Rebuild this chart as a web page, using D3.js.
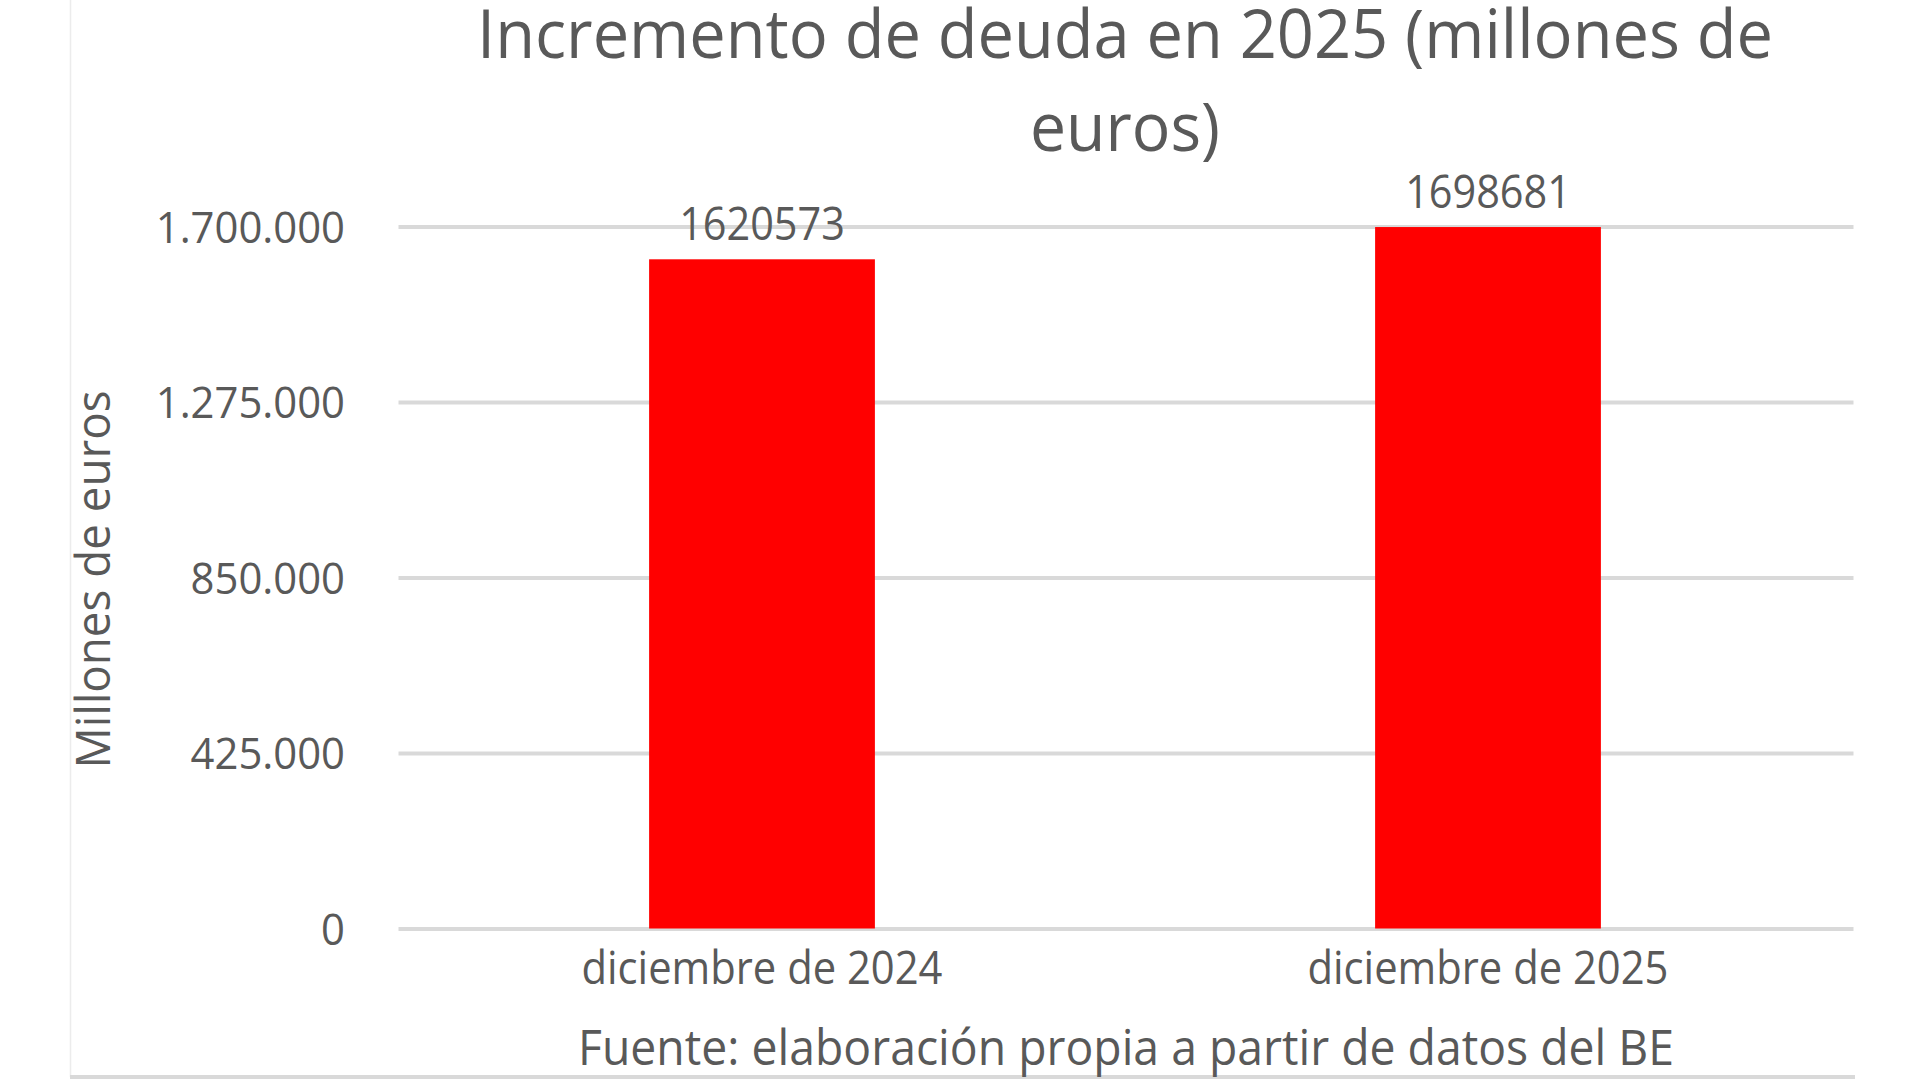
<!DOCTYPE html>
<html>
<head>
<meta charset="utf-8">
<script src="https://cdn.jsdelivr.net/npm/d3@7"></script>
<style>
  body { margin: 0; background: #fff; }
  text { font-family: "Open Sans", sans-serif; fill: #595959; }
</style>
</head>
<body>
<div class="chart"></div>
<script>
const categories = ["diciembre de 2024", "diciembre de 2025"]
const debtValues = [1620573, 1698681]
const yTickValues = [0, 425000, 850000, 1275000, 1700000]
const titleLines = ["Incremento de deuda en 2025 (millones de", "euros)"]
const yAxisTitle = "Millones de euros"
const sourceNote = "Fuente: elaboración propia a partir de datos del BE"

const colors = {
  text: "#595959",
  grid: "#d9d9d9",
  bar: "#ff0000"
}

const dims = {
  width: 1920,
  height: 1080,
  margin: { top: 226.5, right: 69, bottom: 151.5, left: 399 }
}
dims.boundedWidth = dims.width - dims.margin.left - dims.margin.right
dims.boundedHeight = dims.height - dims.margin.top - dims.margin.bottom

// the reference text is narrower than Open Sans, so squeeze it a bit
const squeeze = (sel, k) => sel.each(function () {
  d3.select(this)
    .attr("textLength", this.getComputedTextLength() * k)
    .attr("lengthAdjust", "spacingAndGlyphs")
})
const fitWidth = (sel, w) => sel
  .attr("textLength", w)
  .attr("lengthAdjust", "spacingAndGlyphs")

const esLocale = d3.formatLocale({ decimal: ",", thousands: ".", grouping: [3], currency: ["", " €"] })
const tickFormat = esLocale.format(",")

const xScale = d3.scaleBand()
  .domain(categories)
  .range([0, dims.boundedWidth])
  .paddingInner(0.689)
  .paddingOuter(0.3445)

const yScale = d3.scaleLinear()
  .domain([0, 1700000])
  .range([dims.boundedHeight, 0])

const svg = d3.select(".chart").append("svg")
  .attr("width", dims.width)
  .attr("height", dims.height)

svg.append("rect")
  .attr("width", dims.width)
  .attr("height", dims.height)
  .attr("fill", "#fff")

// chart area border (left + bottom visible)
svg.append("line")
  .attr("x1", 70.5).attr("x2", 70.5)
  .attr("y1", 0).attr("y2", 1077)
  .attr("stroke", "#ececec").attr("stroke-width", 1.5)
svg.append("line")
  .attr("x1", 70).attr("x2", 1855)
  .attr("y1", 1077).attr("y2", 1077)
  .attr("stroke", colors.grid).attr("stroke-width", 4)

const bounds = svg.append("g")
  .attr("transform", `translate(${dims.margin.left},${dims.margin.top})`)

// gridlines + tick labels
const yAxisGenerator = d3.axisLeft(yScale)
  .tickValues(yTickValues)
  .tickFormat(tickFormat)
  .tickSize(-dims.boundedWidth - 3)
  .tickPadding(0)

const yAxis = bounds.append("g")
  .attr("transform", "translate(-0.5,0)")
  .call(yAxisGenerator)
  .call(g => g.select(".domain").remove())
  .call(g => g.selectAll(".tick line")
    .attr("stroke", colors.grid)
    .attr("stroke-width", 4))
  .call(g => g.selectAll(".tick text")
    .attr("x", -53.5)
    .attr("dy", "0.36em")
    .style("font-size", "44px")
    .style("font-family", "\"Open Sans\", sans-serif")
    .attr("fill", colors.text))

yAxis.selectAll(".tick text").call(squeeze, 0.95)

// bars
const barWidth = xScale.bandwidth()
bounds.selectAll(".bar")
  .data(debtValues)
  .join("rect")
    .attr("class", "bar")
    .attr("x", (d, i) => xScale(categories[i]))
    .attr("y", d => yScale(d))
    .attr("width", barWidth)
    .attr("height", d => yScale(0) - yScale(d))
    .attr("fill", colors.bar)

// data labels
bounds.selectAll(".value-label")
  .data(debtValues)
  .join("text")
    .attr("class", "value-label")
    .attr("x", (d, i) => xScale(categories[i]) + barWidth / 2)
    .attr("y", d => yScale(d) - 19)
    .attr("text-anchor", "middle")
    .style("font-size", "46px")
    .text(d => d)
    .call(squeeze, 0.9)

// category labels
bounds.selectAll(".cat-label")
  .data(categories)
  .join("text")
    .attr("class", "cat-label")
    .attr("x", d => xScale(d) + barWidth / 2)
    .attr("y", dims.boundedHeight + 55.5)
    .attr("text-anchor", "middle")
    .style("font-size", "45px")
    .text(d => d)
    .call(fitWidth, 361)

// title
svg.selectAll(".title-line")
  .data(titleLines)
  .join("text")
    .attr("class", "title-line")
    .attr("x", 1125)
    .attr("y", (d, i) => 58 + i * 93)
    .attr("text-anchor", "middle")
    .style("font-size", "67px")
    .text(d => d)
    .each(function (d, i) { d3.select(this).call(fitWidth, i === 0 ? 1296 : 190) })

// y axis title
svg.append("text")
  .attr("transform", `translate(110,${dims.margin.top + dims.boundedHeight / 2 + 2}) rotate(-90)`)
  .attr("text-anchor", "middle")
  .style("font-size", "48px")
  .text(yAxisTitle)
  .call(fitWidth, 378)

// source note
svg.append("text")
  .attr("x", 1126)
  .attr("y", 1065)
  .attr("text-anchor", "middle")
  .style("font-size", "49px")
  .text(sourceNote)
  .call(fitWidth, 1096)
</script>
</body>
</html>
